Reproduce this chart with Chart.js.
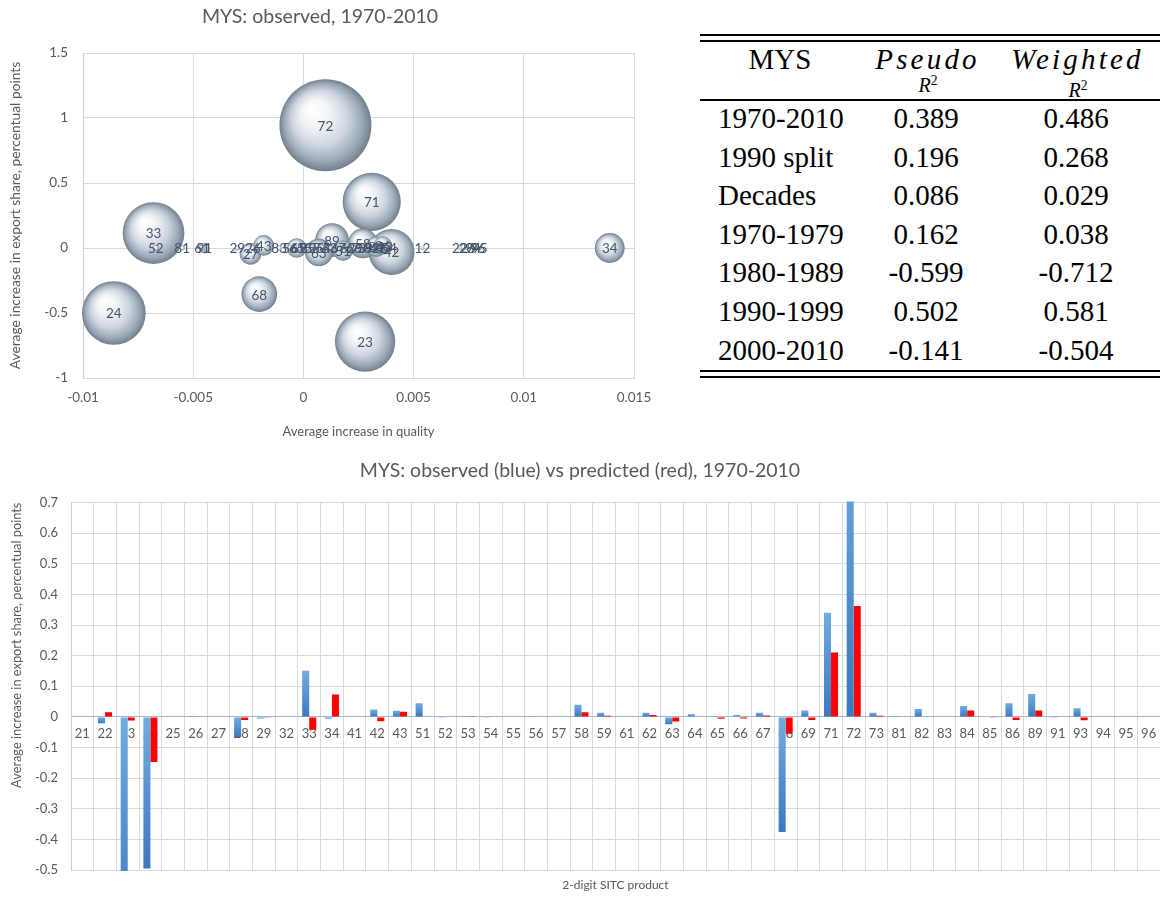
<!DOCTYPE html>
<html>
<head>
<meta charset="utf-8">
<title>MYS: export share and quality</title>
<script src="https://cdn.jsdelivr.net/npm/chart.js@4.4.1/dist/chart.umd.min.js"></script>
<style>
  html, body { margin: 0; padding: 0; background: #fff; }
  body { position: relative; width: 1160px; height: 898px; overflow: hidden; }
  canvas { position: absolute; left: 0; }
  #bubbleChart { top: 0; }
  #barChart { top: 455px; }
  .tx { position: absolute; font-family: 'Liberation Serif', 'DejaVu Serif', serif; color: #000;
        line-height: 1; white-space: nowrap; }
  .tx sup { font-size: 0.68em; line-height: 0; vertical-align: 0.5em; font-style: normal; }
  .rule { position: absolute; left: 700px; width: 460px; background: #000; }
</style>
</head>
<body>
<canvas id="bubbleChart" width="680" height="445"></canvas>
<canvas id="barChart" width="1160" height="443"></canvas>
<div id="fitTable"></div>
<script>
// ---- Bubble chart: average quality change vs. export share change per 2-digit SITC product ----
const bubbleLabels  = ['72', '24', '33', '23', '71', '42', '68', '89', '34', '58', '63', '27', '43', '65', '51', '84', '86', '91',
                       '52', '81', '61', '29', '26', '83', '56', '69', '85', '55', '25', '64', '53', '67', '62', '66', '73',
                       '59', '82', '41', '93', '54', '12', '22', '28', '94', '96', '95'];
const qualityChange = [0.0010, -0.0086, -0.0068, 0.0028, 0.0031, 0.0040, -0.0020, 0.0013, 0.0139, 0.0027, 0.0007, -0.0024, -0.0018, -0.0003, 0.0018, 0.0033, 0.0036, -0.0045,
                       -0.0067, -0.0055, -0.0046, -0.0030, -0.0023, -0.0011, -0.0006, -0.0002, 0.0002, 0.0004, 0.0006, 0.0009, 0.0012, 0.0016, 0.0020, 0.0023, 0.0025,
                       0.0028, 0.0031, 0.0034, 0.0037, 0.0039, 0.0054, 0.0071, 0.0074, 0.0077, 0.0079, 0.0080];
const shareChange   = [0.945, -0.50, 0.115, -0.72, 0.355, -0.03, -0.355, 0.06, 0.0, 0.035, -0.035, -0.045, 0.02, 0.0, -0.02, 0.01, 0.02, 0.0,
                       0.0, 0.0, 0.0, 0.0, 0.0, 0.0, 0.0, 0.0, 0.0, 0.0, 0.0, 0.0, 0.0, 0.0, 0.0, 0.0, 0.0,
                       0.0, 0.0, 0.0, 0.01, 0.0, 0.0, 0.0, 0.0, 0.0, 0.0, 0.0];
const exportWeight  = [100, 48, 45, 43, 40, 25, 15, 13.5, 10.5, 10.5, 9, 5.5, 5, 4.5, 4.8, 5, 4, 1.3,
                       0.4, 0.3, 0.4, 0.3, 0.4, 0.3, 0.3, 0.6, 0.3, 0.3, 0.2, 0.5, 0.3, 0.5, 0.5, 0.4, 0.6,
                       0.5, 0.5, 0.2, 0.5, 0.2, 0.2, 0.2, 0.2, 0.2, 0.2, 0.2];
const qualityTicks  = [-0.01, -0.005, 0, 0.005, 0.01, 0.015];
const shareTicks    = [-1, -0.5, 0, 0.5, 1, 1.5];

// ---- Bar chart: observed vs predicted change in export share ----
const categories = ['21','22','23','24','25','26','27','28','29','32','33','34','41','42','43',
                    '51','52','53','54','55','56','57','58','59','61','62','63','64','65','66','67','68','69',
                    '71','72','73','81','82','83','84','85','86','89','91','93','94','95','96'];
const observed  = [-0.002, -0.021, -0.72, -0.495, 0, 0.003, 0, -0.066, -0.005, 0, 0.151, -0.006, 0, 0.024, 0.02,
                   0.045, -0.003, 0.002, -0.003, 0, 0.002, 0, 0.04, 0.014, 0, 0.014, -0.024, 0.009, 0.003, 0.0065, 0.014, -0.376, 0.021,
                   0.34, 0.95, 0.014, 0.003, 0.026, 0, 0.036, -0.002, 0.045, 0.075, -0.003, 0.028, 0, 0, 0];
const predicted = [0, 0.015, -0.012, -0.147, 0, -0.002, 0, -0.01, -0.001, 0, -0.042, 0.073, 0, -0.014, 0.017,
                   0, 0, 0.002, 0, -0.002, 0, 0, 0.015, 0.004, 0, 0.0065, -0.015, -0.002, -0.006, -0.005, 0.005, -0.055, -0.01,
                   0.21, 0.362, 0.004, 0, 0, 0, 0.021, -0.003, -0.01, 0.021, 0, -0.011, 0, 0, 0];
const barTicks  = [-0.5, -0.4, -0.3, -0.2, -0.1, 0, 0.1, 0.2, 0.3, 0.4, 0.5, 0.6, 0.7];

// ---- Fit table ----
const tableHead   = ['MYS', 'Pseudo', 'Weighted'];
const tablePeriods = ['1970-2010', '1990 split', 'Decades', '1970-1979', '1980-1989', '1990-1999', '2000-2010'];
const pseudoR2    = ['0.389', '0.196', '0.086', '0.162', '-0.599', '0.502', '-0.141'];
const weightedR2  = ['0.486', '0.268', '0.029', '0.038', '-0.712', '0.581', '-0.504'];

Chart.defaults.font.family = "Lato, 'Open Sans', sans-serif";
Chart.defaults.color = '#595959';
Chart.defaults.animation = false;

const GRID = '#d9d9d9';
const bubbleRadius = i => 4.6 * Math.sqrt(exportWeight[i]);

// Glossy sphere fill: highlight toward the upper left, darker rim lower right
function sphereFill(ctx) {
  const chart = ctx.chart, xs = chart.scales.x, ys = chart.scales.y;
  if (ctx.type !== 'data' || !xs || !ys) return '#c9d2dc';
  const i = ctx.dataIndex;
  const cx = xs.getPixelForValue(qualityChange[i]);
  const cy = ys.getPixelForValue(shareChange[i]);
  if (!isFinite(cx) || !isFinite(cy)) return '#c9d2dc';
  const r = Math.max(bubbleRadius(i), 1);
  const g = chart.ctx.createRadialGradient(cx - r * 0.3, cy - r * 0.36, r * 0.04, cx, cy, r);
  g.addColorStop(0, '#ffffff');
  g.addColorStop(0.3, '#eff2f5');
  g.addColorStop(0.6, '#cbd4de');
  g.addColorStop(0.84, '#9ba8b6');
  g.addColorStop(1, '#717e8c');
  return g;
}

const bubbleLabelPlugin = {
  id: 'bubbleLabels',
  afterDatasetsDraw(chart) {
    const { ctx } = chart;
    const meta = chart.getDatasetMeta(0);
    ctx.save();
    ctx.font = "13.5px Lato, 'Open Sans', sans-serif";
    ctx.fillStyle = '#44546a';
    ctx.textAlign = 'center';
    ctx.textBaseline = 'middle';
    meta.data.forEach((el, i) => ctx.fillText(bubbleLabels[i], el.x, el.y + 1));
    ctx.restore();
  }
};

new Chart(document.getElementById('bubbleChart'), {
  type: 'bubble',
  data: {
    datasets: [{
      data: bubbleLabels.map((_, i) => ({ x: qualityChange[i], y: shareChange[i] })),
      radius: ctx => bubbleRadius(ctx.dataIndex),
      hoverRadius: 0,
      backgroundColor: sphereFill,
      borderWidth: 0,
      clip: false
    }]
  },
  options: {
    responsive: false,
    events: [],
    layout: { padding: { left: 0, right: 40, top: 0, bottom: 0 } },
    plugins: {
      legend: { display: false },
      tooltip: { enabled: false },
      title: {
        display: true,
        text: 'MYS: observed, 1970-2010',
        color: '#595959',
        font: { size: 19.5, weight: 'normal' },
        padding: { top: 5.4, bottom: 24.2 }
      }
    },
    scales: {
      x: {
        type: 'linear', min: -0.01, max: 0.015,
        afterBuildTicks: s => { s.ticks = qualityTicks.map(v => ({ value: v })); },
        afterFit: s => { s.height = 67; },
        ticks: { padding: 12, font: { size: 13.5 }, color: '#595959', callback: v => String(v) },
        grid: { color: GRID, drawTicks: false },
        border: { color: GRID },
        title: { display: true, text: 'Average increase in quality', font: { size: 13 }, color: '#595959',
                 padding: { top: 0, bottom: 5.2 } }
      },
      y: {
        type: 'linear', min: -1, max: 1.5,
        afterBuildTicks: s => { s.ticks = shareTicks.map(v => ({ value: v })); },
        afterFit: s => { s.width = 83; },
        ticks: { padding: 15, font: { size: 13.5 }, color: '#595959', callback: v => String(v) },
        grid: { color: GRID, drawTicks: false },
        border: { color: '#c9ced6' },
        title: { display: true, text: 'Average increase in export share, percentual points', font: { size: 13.8 },
                 color: '#595959', padding: { top: 6.8, bottom: 0 } }
      }
    }
  },
  plugins: [bubbleLabelPlugin]
});

// Observed bars: vertical gradient from the lighter top edge to the darker bottom edge
function observedFill(ctx) {
  const chart = ctx.chart, ys = chart.scales.y;
  if (ctx.type !== 'data' || !ys) return '#5b9bd5';
  const v = observed[ctx.dataIndex];
  const a = ys.getPixelForValue(0), b = ys.getPixelForValue(v);
  if (!isFinite(a) || !isFinite(b)) return '#5b9bd5';
  const top = Math.min(a, b), bot = Math.max(a, b);
  if (bot - top < 2) return '#5b9bd5';
  const g = chart.ctx.createLinearGradient(0, top, 0, bot);
  g.addColorStop(0, '#73abe0');
  g.addColorStop(1, '#3b78c0');
  return g;
}

// Product codes written just under the zero line, beneath the bars
const categoryLabelPlugin = {
  id: 'categoryLabels',
  beforeDatasetsDraw(chart) {
    const { ctx, scales: { x, y } } = chart;
    const yLab = y.getPixelForValue(0) + 17;
    ctx.save();
    ctx.font = "13px Lato, 'Open Sans', sans-serif";
    ctx.fillStyle = '#595959';
    ctx.textAlign = 'center';
    ctx.textBaseline = 'middle';
    categories.forEach((c, i) => ctx.fillText(c, x.getPixelForValue(i), yLab));
    ctx.restore();
  }
};

new Chart(document.getElementById('barChart'), {
  type: 'bar',
  data: {
    labels: categories,
    datasets: [
      { label: 'observed', data: observed, backgroundColor: observedFill, borderWidth: 0, clip: 1 },
      { label: 'predicted', data: predicted, backgroundColor: '#ff0000', borderWidth: 0, clip: 1 }
    ]
  },
  options: {
    responsive: false,
    events: [],
    categoryPercentage: 0.62,
    barPercentage: 1.0,
    layout: { padding: 0 },
    plugins: {
      legend: { display: false },
      tooltip: { enabled: false },
      title: {
        display: true,
        text: 'MYS: observed (blue) vs predicted (red), 1970-2010',
        color: '#595959',
        font: { size: 19.5, weight: 'normal' },
        padding: { top: 3.6, bottom: 20.6 }
      }
    },
    scales: {
      x: {
        type: 'category',
        afterFit: s => { s.height = 28; },
        ticks: { display: false },
        grid: { color: GRID, offset: true, drawTicks: false },
        border: { display: false },
        title: { display: true, text: '2-digit SITC product', font: { size: 12 }, color: '#595959',
                 padding: { top: 0, bottom: 5.8 } }
      },
      y: {
        type: 'linear', min: -0.5, max: 0.7,
        afterBuildTicks: s => { s.ticks = barTicks.map(v => ({ value: v })); },
        afterFit: s => { s.width = 71; },
        ticks: { padding: 13, font: { size: 13 }, color: '#595959', callback: v => String(v) },
        grid: { color: c => (c.tick && c.tick.value === 0 ? '#9fb6d8' : GRID), drawTicks: false },
        border: { color: '#c9ced6' },
        title: { display: true, text: 'Average increase in export share, percentual points', align: 'end',
                 font: { size: 12.8 }, color: '#595959', padding: { top: 9.5, bottom: 0 } }
      }
    }
  },
  plugins: [categoryLabelPlugin]
});

// ---- Table of fit statistics ----
const table = document.getElementById('fitTable');
function putText(html, x, baseline, align, size, opts = {}) {
  const d = document.createElement('div');
  d.className = 'tx';
  d.innerHTML = html;
  d.style.fontSize = size + 'px';
  d.style.top = (baseline - 0.8375 * size) + 'px';
  d.style.left = x + 'px';
  if (align === 'center') d.style.transform = 'translateX(-50%)';
  if (opts.italic) d.style.fontStyle = 'italic';
  if (opts.spacing) d.style.letterSpacing = opts.spacing + 'px';
  table.appendChild(d);
}
function putRule(top, h) {
  const d = document.createElement('div');
  d.className = 'rule';
  d.style.top = top + 'px';
  d.style.height = h + 'px';
  table.appendChild(d);
}
[[34.4, 1.8], [40.4, 1.8], [99.4, 1.6], [369.8, 1.8], [375.8, 1.8]].forEach(r => putRule(r[0], r[1]));

const FS = 29;
const colX = [718, 926, 1076];
putText(tableHead[0], 780, 69.3, 'center', FS);
putText(tableHead[1], colX[1] + 1.5, 69.3, 'center', FS, { italic: true, spacing: 3.2 });
putText(tableHead[2], colX[2] + 1.5, 69.3, 'center', FS, { italic: true, spacing: 3.2 });
putText('R<sup>2</sup>', colX[1] + 2, 91.5, 'center', 20, { italic: true });
putText('R<sup>2</sup>', colX[2] + 2, 96.5, 'center', 20, { italic: true });
tablePeriods.forEach((p, i) => {
  const base = 128.3 + i * 38.6;
  putText(p, colX[0], base, 'left', FS);
  putText(pseudoR2[i], colX[1], base, 'center', FS);
  putText(weightedR2[i], colX[2], base, 'center', FS);
});
</script>
</body>
</html>
